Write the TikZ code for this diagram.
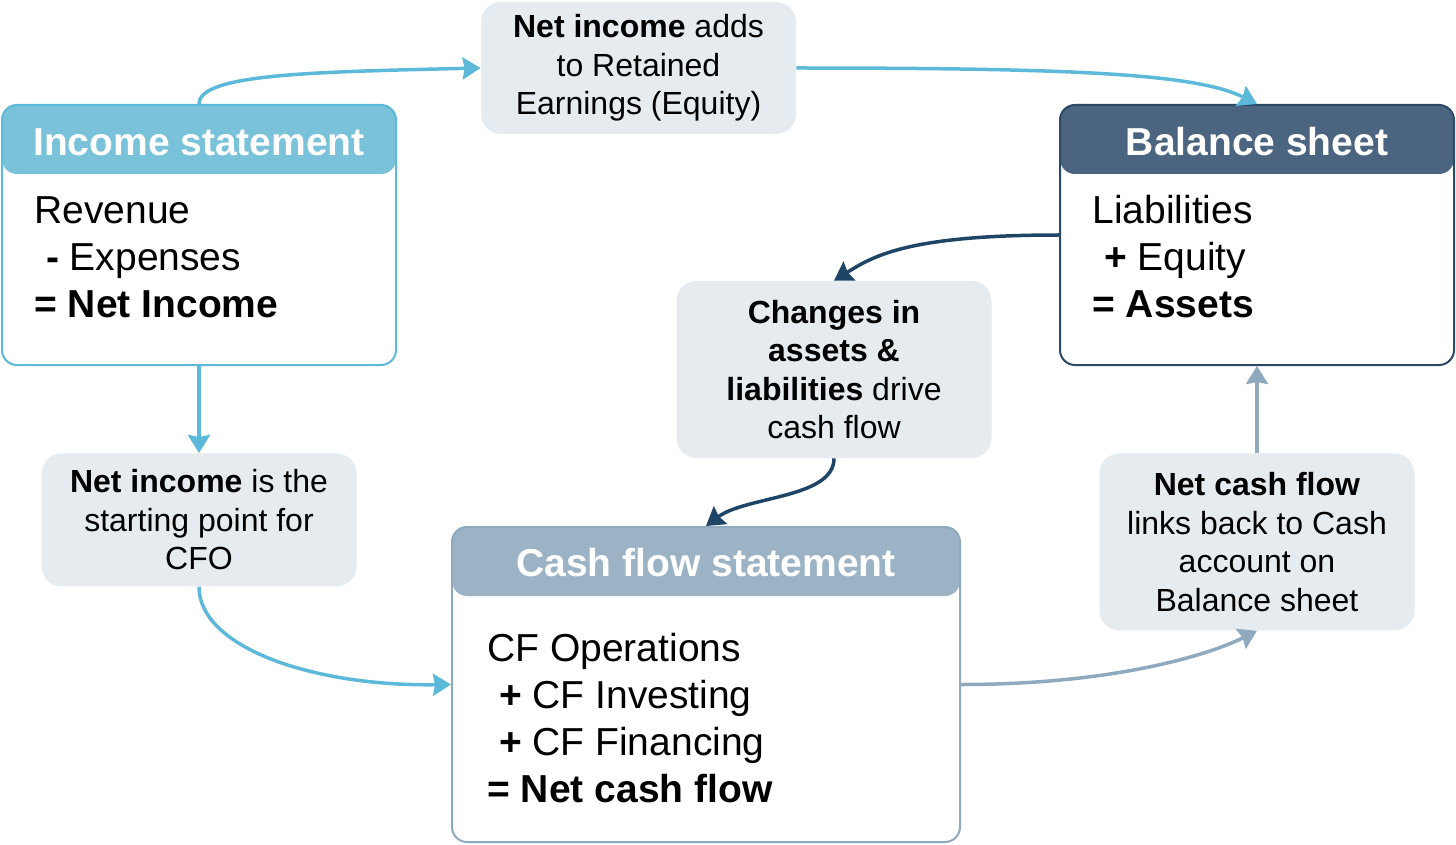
\documentclass[tikz,border=0pt]{standalone}
\usepackage{fontspec}
\setmainfont{Liberation Sans}
\usetikzlibrary{arrows.meta,
	positioning}
\definecolor{ishead}{HTML}{79C2DA}
\definecolor{isline}{HTML}{5DB9DA}
\definecolor{bshead}{HTML}{4B6580}
\definecolor{bsline}{HTML}{2C4968}
\definecolor{cfhead}{HTML}{9CB3C6}
\definecolor{cfline}{HTML}{8FA9BF}
\definecolor{notefill}{HTML}{E6EBF0}
\definecolor{darklink}{HTML}{1F4566}
\tikzset{
	card/.style 2 args={draw=#2, line width=1pt, fill=white, rounded corners=7.5pt, minimum width=197pt, minimum height=130pt, path picture={\fill[#1] (path picture bounding box.north west) rectangle ([yshift=-34.5pt]path picture bounding box.north east);}},
	cardtitle/.style={text=white, font=\fontsize{19.5pt}{23.5pt}\selectfont\bfseries, inner sep=0pt},
	cardbody/.style={align=left, font=\fontsize{19.5pt}{23.5pt}\selectfont, inner sep=0pt, anchor=west},
	note/.style={fill=notefill, rounded corners=10pt, minimum width=157.5pt, align=center, font=\fontsize{16pt}{19.25pt}\selectfont, inner sep=0pt},
	flow/.style={line width=1.75pt, -{Stealth[length=9pt, width=11pt, inset=1pt]}}
}

\begin{document}
\begin{tikzpicture}[x=0.5pt, y=-0.5pt]
	\useasboundingbox (0, 0) rectangle (1456, 845);
	\node[card={ishead}{isline}] (is) at (199, 235) {};
	\node[cardtitle] (istitle) at ([yshift=-19pt]is.north) {Income statement};
	\node[cardbody] (isbody) at ([xshift=16.5pt, yshift=-11pt]is.west) {Revenue\\\hspace*{0.3em}\textbf{-} Expenses\\\textbf{= Net Income}};
	\node[card={bshead}{bsline}] (bs) at (1257, 235) {};
	\node[cardtitle] (bstitle) at ([yshift=-19pt]bs.north) {Balance sheet};
	\node[cardbody] (bsbody) at ([xshift=16.5pt, yshift=-11pt]bs.west) {Liabilities\\\hspace*{0.3em}\textbf{+} Equity\\\textbf{= Assets}};
	\node[card={cfhead}{cfline}, minimum width=254pt, minimum height=157.5pt] (cf) at (706, 684.5) {};
	\node[cardtitle] (cftitle) at ([yshift=-18.5pt]cf.north) {Cash flow statement};
	\node[cardbody] (cfbody) at ([xshift=18pt, yshift=-16.75pt]cf.west) {CF Operations\\\hspace*{0.3em}\textbf{+} CF Investing\\\hspace*{0.3em}\textbf{+} CF Financing\\\textbf{= Net cash flow}};
	\node[note, minimum height=66pt] (addre) at (638.5, 68) {\textbf{Net income} adds\\to Retained\\Earnings (Equity)};
	\node[note, minimum height=66.5pt, below=43.5pt of is] (nistart) {\textbf{Net income} is the\\starting point for\\CFO};
	\node[note, minimum height=88.5pt] (chg) at (834, 369.5) {\textbf{Changes in}\\\textbf{assets \&}\\\textbf{liabilities} drive\\cash flow};
	\node[note, minimum height=88.5pt, below=43.5pt of bs] (ncf) {\textbf{Net cash flow}\\links back to Cash\\account on\\Balance sheet};
	\draw[flow, isline] (is.north) .. controls +(0, -30) and +(-170, 4) .. (addre.west);
	\draw[flow, isline] (addre.east) .. controls +(280, 0) and +(-60, -30) .. (bs.north);
	\draw[flow, isline] (is.south) -- (nistart.north);
	\draw[flow, isline] (nistart.south) .. controls +(0, 60) and +(-140, 2) .. (cf.west);
	\draw[flow, darklink] (bs.west) .. controls +(-150, 0) and +(40, -25) .. (chg.north);
	\draw[flow, darklink] (chg.south) .. controls +(0, 40) and +(40, -30) .. (cf.north);
	\draw[flow, cfline] (cf.east) .. controls +(150, 0) and +(-50, 25) .. (ncf.south);
	\draw[flow, cfline] (ncf.north) -- (bs.south);
\end{tikzpicture}
\end{document}
